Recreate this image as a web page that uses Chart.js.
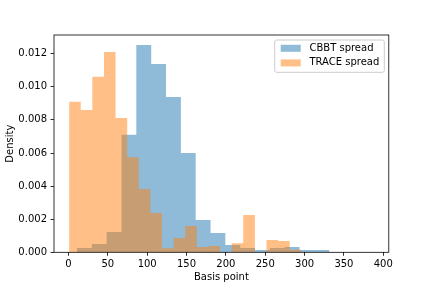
<!DOCTYPE html>
<html>
<head>
<meta charset="utf-8">
<script src="https://cdn.jsdelivr.net/npm/chart.js@4.4.0/dist/chart.umd.min.js"></script>
<style>
  html, body { margin: 0; padding: 0; background: #fff; }
  #wrap { width: 432px; height: 288px; }
</style>
</head>
<body>
<div id="wrap"><canvas id="histChart" width="432" height="288"></canvas></div>
<script>
// values (density = normed counts)
const seriesNames = ['CBBT spread', 'TRACE spread'];

const cbbtEdges = [10.8, 29.7, 48.5, 67.4, 86.2, 105.1, 123.9, 142.8, 161.6, 180.5, 199.3,
  218.2, 237.0, 255.9, 274.7, 293.6, 312.4, 331.3, 350.1, 369.0, 387.8];
const cbbtDensity = [0.00026, 0.00050, 0.00122, 0.00710, 0.01253, 0.01138, 0.00939, 0.00600,
  0.00195, 0.00117, 0.00044, 0.00026, 0.00014, 0.00026, 0.00032, 0.00014, 0.00014, 0, 0, 0];

const traceEdges = [0.8, 15.6, 30.3, 45.1, 59.8, 74.6, 89.3, 104.1, 118.8, 133.6, 148.3,
  163.1, 177.8, 192.6, 207.3, 222.1, 236.8, 251.6, 266.3, 281.1, 295.8];
const traceDensity = [0.00909, 0.00860, 0.01060, 0.01211, 0.00812, 0.00574, 0.00383, 0.00237,
  0.00025, 0.00086, 0.00159, 0.00032, 0.00038, 0, 0.00055, 0.00225, 0, 0.00074, 0.00068, 0.00016];

const xTicks = [0, 50, 100, 150, 200, 250, 300, 350, 400];
const yTicks = [0, 0.002, 0.004, 0.006, 0.008, 0.010, 0.012];

const blueFill = 'rgba(31,119,180,0.5)';
const orangeFill = 'rgba(255,127,14,0.5)';

// step outline of a histogram: each bin value held from its left edge to the next
function histPoints(edges, dens) {
  const pts = dens.map((d, i) => ({ x: edges[i], y: d }));
  pts.push({ x: edges[edges.length - 1], y: 0 });
  return pts;
}

const framePlugin = {
  id: 'frame',
  afterDatasetsDraw(chart) {
    const { ctx, chartArea: a } = chart;
    ctx.save();
    ctx.strokeStyle = '#000';
    ctx.lineWidth = 0.8;
    ctx.strokeRect(a.left, a.top, a.right - a.left, a.bottom - a.top);
    ctx.restore();
  }
};

const legendPlugin = {
  id: 'boxLegend',
  afterDraw(chart) {
    const { ctx, chartArea: a } = chart;
    const fills = [blueFill, orangeFill];
    ctx.save();
    ctx.font = '10px "DejaVu Sans"';
    const textW = Math.max(...seriesNames.map(s => ctx.measureText(s).width));
    const w = 6 + 20 + 8.7 + textW + 5, h = 32.3;
    const x = a.right - 4.5 - w, y = a.top + 5;
    ctx.beginPath();
    ctx.roundRect(x, y, w, h, 2);
    ctx.fillStyle = 'rgba(255,255,255,0.8)';
    ctx.fill();
    ctx.strokeStyle = '#cccccc';
    ctx.lineWidth = 1;
    ctx.stroke();
    seriesNames.forEach((name, i) => {
      const cy = y + 8.3 + i * 14.6;
      ctx.fillStyle = fills[i];
      ctx.fillRect(x + 6, cy - 3.5, 20, 7);
      ctx.fillStyle = '#000';
      ctx.textBaseline = 'middle';
      ctx.fillText(name, x + 34.7, cy);
    });
    ctx.restore();
  }
};

Chart.defaults.font.family = '"DejaVu Sans", sans-serif';
Chart.defaults.font.size = 10;
Chart.defaults.color = '#000';

new Chart(document.getElementById('histChart'), {
  type: 'line',
  data: {
    datasets: [
      { label: seriesNames[0], data: histPoints(cbbtEdges, cbbtDensity), stepped: true,
        fill: 'origin', backgroundColor: blueFill, borderWidth: 0, pointRadius: 0, order: 1 },
      { label: seriesNames[1], data: histPoints(traceEdges, traceDensity), stepped: true,
        fill: 'origin', backgroundColor: orangeFill, borderWidth: 0, pointRadius: 0, order: 0 }
    ]
  },
  options: {
    responsive: false,
    animation: false,
    layout: { padding: { left: 0, top: 35, right: 43.2, bottom: 0 } },
    plugins: { legend: { display: false }, tooltip: { enabled: false } },
    scales: {
      x: {
        type: 'linear', min: -18.4, max: 407,
        afterBuildTicks: s => { s.ticks = xTicks.map(v => ({ value: v })); },
        afterFit: s => { s.height = 35.7; },
        ticks: { padding: 3, font: { size: 10 }, color: '#000', callback: v => String(v) },
        grid: { display: true, drawOnChartArea: false, tickLength: 3.5, tickWidth: 0.8, tickColor: '#000' },
        border: { display: false },
        title: { display: true, text: 'Basis point', padding: { top: 0, bottom: 4.5 }, font: { size: 10 } }
      },
      y: {
        type: 'linear', min: 0, max: 0.01313,
        afterBuildTicks: s => { s.ticks = yTicks.map(v => ({ value: v })); },
        afterFit: s => { s.width = 54; },
        ticks: { padding: 3.5, font: { size: 10 }, color: '#000', callback: v => Number(v).toFixed(3) },
        grid: { display: true, drawOnChartArea: false, tickLength: 3.5, tickWidth: 0.8, tickColor: '#000' },
        border: { display: false },
        title: { display: true, text: 'Density', padding: { top: 4, bottom: 0 }, font: { size: 10 } }
      }
    }
  },
  plugins: [framePlugin, legendPlugin]
});
</script>
</body>
</html>
